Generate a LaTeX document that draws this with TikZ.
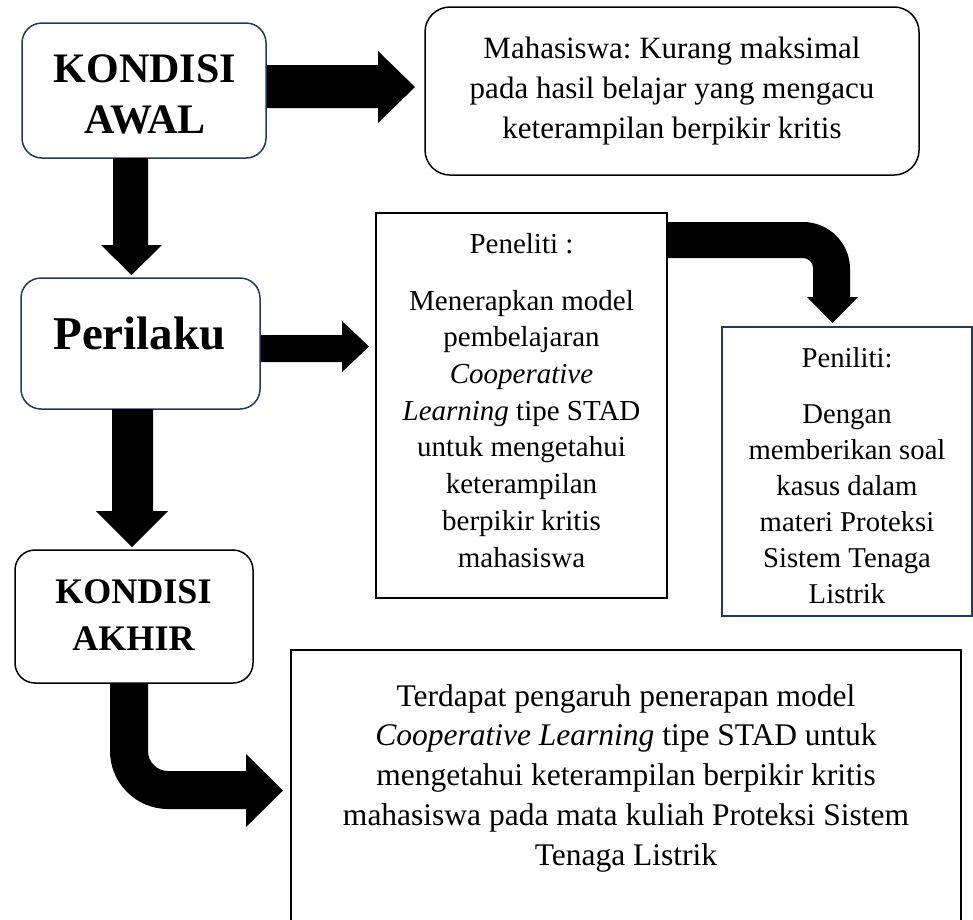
\documentclass[tikz,border=0pt]{standalone}
\usepackage{fontspec}
\setmainfont{Liberation Serif}
\frenchspacing
\definecolor{navy}{RGB}{32,56,100}
\tikzset{
  rbox/.style={draw=navy, line width=1.5pt, rounded corners=20pt, inner sep=0pt},
  sbox/.style={draw=black, line width=1.5pt, inner sep=0pt},
  txt/.style={inner sep=0pt, align=center},
  blk/.style={fill=black},
}
\begin{document}
\begin{tikzpicture}[x=1pt,y=-1pt]
\useasboundingbox (0,0) rectangle (973,919);
\clip (0,0) rectangle (973,919);
% boxes
\node[rbox, minimum width=244pt, minimum height=135pt] (b1) at (144,90.5) {};
\node[rbox, draw=black, rounded corners=25pt, minimum width=494pt, minimum height=168pt] (b2) at (672,91) {};
\node[rbox, minimum width=239pt, minimum height=131pt] (b3) at (140.5,343.5) {};
\node[rbox, draw=black, minimum width=238pt, minimum height=133pt] (b4) at (134,616.5) {};
\node[sbox, minimum width=291pt, minimum height=385pt] (p1) at (521.5,405.5) {};
\node[sbox, draw=navy, minimum width=250pt, minimum height=289pt] (p2) at (847,471.5) {};
\node[sbox, minimum width=670pt, minimum height=285pt] (p3) at (626,792.5) {};
% texts (base anchor = baseline of the last line)
\node[txt, anchor=base, font=\bfseries\fontsize{42}{51}\selectfont] (t1) at (145,133) {KONDISI\\AWAL};
\node[txt, font=\fontsize{31}{40}\selectfont] (t2) at (b2.center) {Mahasiswa: Kurang maksimal\\pada hasil belajar yang mengacu\\keterampilan berpikir kritis};
\node[txt, anchor=base, font=\bfseries\fontsize{47}{56}\selectfont] (t3) at (139.5,349) {Perilaku};
\node[txt, anchor=base, font=\bfseries\fontsize{36}{47}\selectfont] (t4) at (133.5,650) {KONDISI\\AKHIR};
\node[txt, anchor=base, font=\fontsize{29}{36.7}\selectfont] (t5) at (521.5,567) {Peneliti :\\[20.3pt]Menerapkan model\\pembelajaran\\\textit{Cooperative}\\\textit{Learning} tipe STAD\\untuk mengetahui\\keterampilan\\berpikir kritis\\mahasiswa};
\node[txt, anchor=base, font=\fontsize{28.7}{36}\selectfont] (t6) at (847,603) {Peniliti:\\[20pt]Dengan\\memberikan soal\\kasus dalam\\materi Proteksi\\Sistem Tenaga\\Listrik};
\node[txt, anchor=base, font=\fontsize{31.5}{39.75}\selectfont] (t7) at (626,865) {Terdapat pengaruh penerapan model\\\textit{Cooperative Learning} tipe STAD untuk\\mengetahui keterampilan berpikir kritis\\mahasiswa pada mata kuliah Proteksi Sistem\\Tenaga Listrik};
% block arrows
\fill[blk] (b1.east |- 0,65) -- (378,65) -- (378,51) -- (415,87) -- (378,123) -- (378,108) -- (b1.east |- 0,108) -- cycle;
\fill[blk] (113,158) -- (148,158) -- (148,245) -- (162,245) -- (131.5,275) -- (101,245) -- (113,245) -- cycle;
\fill[blk] (b3.east |- 0,335) -- (342,335) -- (342,321) -- (369,346.5) -- (342,372) -- (342,362) -- (b3.east |- 0,362) -- cycle;
\fill[blk] (112,409) -- (153,409) -- (153,511) -- (168,511) -- (132,547) -- (96,511) -- (112,511) -- cycle;
\fill[blk] (p1.east |- 0,222) -- (803,222) .. controls (829,222) and (850,243) .. (850,269) -- (850,297) -- (858,297) -- (832.5,323) -- (807,297) -- (813,297) -- (813,268) .. controls (813,262.5) and (808.5,258) .. (803,258) -- (p1.east |- 0,258) -- cycle;
\fill[blk] (110,683) -- (148,683) -- (148,751) .. controls (148,762) and (157,771) .. (168,771) -- (246,771) -- (246,754) -- (283,790.5) -- (246,827) -- (246,809) -- (168,809) .. controls (136,809) and (110,783) .. (110,751) -- cycle;
\end{tikzpicture}
\end{document}
